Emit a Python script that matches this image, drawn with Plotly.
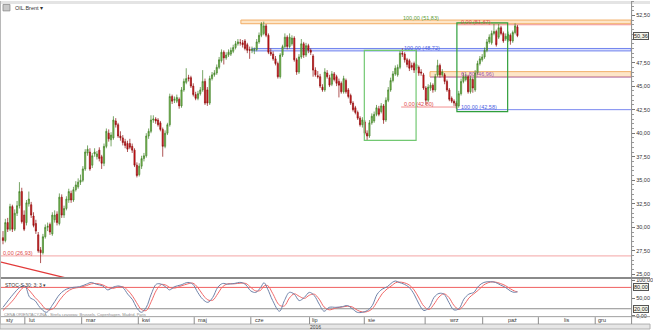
import plotly.graph_objects as go

W, H = 653, 332
def px(x):
    return x / W
def py(y):
    return 1 - y / H

instrument = "OIL.Brent ▾"
stoch_title = "STOC-S 30; 3; 3 ▾"
footer = "CENA ORIENTACYJNA - Strefa czasowa: Brussels, Copenhagen, Madrid, Paris"
year_label = "2016"

opens = [28.9, 28.6, 30.5, 29.8, 32.2, 29.8, 31.5, 32.3, 33.8, 31.3, 30.5, 32.5, 32.4, 31.2, 30.4, 29.2, 27.6, 27.3, 29.0, 30.0,
         30.3, 29.3, 30.8, 31.4, 30.4, 33.2, 31.3, 32.0, 32.9, 33.6, 32.9, 34.0, 34.3, 34.8, 35.0, 36.2, 37.9, 38.0, 36.6, 37.8,
         37.5, 38.2, 37.5, 36.8, 38.6, 40.0, 39.3, 39.5, 41.3, 40.9, 39.7, 39.5, 39.1, 38.9, 38.9, 38.6, 38.2, 36.6, 35.6, 36.5,
         37.3, 37.6, 39.7, 40.2, 41.4, 41.5, 41.4, 41.1, 40.4, 38.6, 40.0, 40.9, 43.9, 43.5, 43.4, 43.6, 42.9, 44.6, 45.4, 45.9,
         45.9, 45.0, 44.1, 43.7, 44.2, 44.6, 45.5, 44.6, 43.2, 45.8, 46.2, 46.4, 47.0, 47.7, 48.6, 48.0, 48.3, 48.4, 48.7, 49.1,
         49.5, 49.6, 49.6, 49.8, 49.4, 48.9, 48.8, 48.8, 48.9, 49.7, 50.4, 50.6, 51.4, 50.4, 48.6, 48.4, 47.9, 47.4, 46.0, 48.3,
         49.2, 50.2, 49.2, 49.5, 50.1, 47.8, 46.5, 48.1, 49.5, 48.3, 49.3, 48.8, 48.2, 46.7, 46.1, 46.0, 44.9, 44.6, 46.4, 45.9,
         45.2, 46.3, 46.0, 45.5, 45.3, 44.4, 45.6, 44.6, 44.0, 43.2, 42.7, 42.2, 41.6, 40.9, 41.2, 40.0, 39.7, 41.1, 41.3, 42.0,
         42.6, 42.3, 42.9, 41.4, 43.5, 44.6, 45.6, 46.3, 46.2, 47.0, 48.5, 48.4, 47.8, 47.7, 47.2, 47.4, 46.9, 47.0, 46.5, 46.2,
         44.8, 43.5, 44.8, 45.1, 44.6, 46.2, 47.2, 46.2, 46.2, 45.5, 44.6, 43.7, 43.4, 43.2, 42.9, 44.2, 45.5, 45.7, 46.0, 44.4,
         45.7, 44.6, 46.4, 47.4, 47.8, 48.1, 48.8, 49.7, 49.6, 50.6, 50.8, 50.2, 51.2, 50.6, 50.0, 49.9, 50.4, 49.8, 50.7, 51.3]
highs = [29.6, 30.9, 31.0, 32.5, 32.4, 31.9, 32.8, 34.8, 34.2, 31.8, 32.9, 33.8, 32.7, 31.6, 30.8, 29.5, 27.9, 29.3, 30.3, 30.5,
         30.5, 31.6, 31.8, 31.7, 33.6, 33.5, 32.3, 33.3, 34.1, 33.9, 34.3, 34.9, 35.2, 35.6, 36.5, 38.3, 38.7, 38.4, 37.9, 38.4,
         38.1, 38.5, 37.7, 38.9, 40.5, 40.4, 40.1, 41.8, 41.6, 41.1, 40.2, 39.8, 39.4, 39.2, 39.4, 38.9, 38.4, 36.9, 36.8, 37.6,
         37.9, 40.0, 40.5, 41.9, 41.9, 41.7, 41.6, 41.3, 40.6, 40.3, 41.1, 44.2, 44.1, 43.9, 44.1, 43.8, 44.9, 45.8, 46.9, 46.2,
         46.1, 45.3, 44.4, 44.5, 44.9, 46.7, 45.8, 44.9, 46.1, 46.5, 46.7, 47.3, 48.1, 48.9, 48.8, 48.6, 48.9, 49.1, 49.4, 49.8,
         50.0, 50.0, 49.9, 50.0, 49.6, 49.2, 49.2, 49.1, 50.0, 50.7, 51.8, 51.85, 51.6, 50.6, 49.0, 48.7, 48.2, 47.6, 48.5, 49.4,
         50.6, 50.4, 50.6, 50.4, 50.3, 48.0, 48.4, 50.0, 49.7, 49.6, 49.5, 49.0, 48.4, 47.0, 46.6, 46.3, 45.2, 46.9, 46.7, 46.2,
         46.6, 46.5, 46.2, 45.8, 45.5, 46.1, 45.8, 44.8, 44.2, 43.4, 42.9, 42.4, 41.8, 41.7, 41.4, 40.3, 41.4, 42.1, 42.3, 43.0,
         42.9, 43.2, 43.1, 43.8, 44.9, 45.9, 46.6, 47.2, 47.3, 48.8, 49.0, 48.6, 48.0, 47.9, 47.5, 47.6, 48.8, 47.2, 46.8, 46.4,
         45.0, 45.2, 45.4, 45.3, 46.3, 47.8, 47.4, 46.8, 46.4, 45.7, 44.8, 43.9, 43.6, 43.4, 44.5, 45.8, 46.4, 46.3, 46.2, 46.1,
         45.9, 46.7, 47.7, 48.2, 48.4, 49.1, 50.0, 50.5, 50.9, 51.6, 51.0, 51.6, 51.4, 50.8, 50.6, 50.8, 50.6, 50.9, 51.67, 51.5]
lows = [28.2, 28.4, 29.5, 29.6, 29.5, 29.6, 31.2, 32.0, 30.4, 29.6, 30.2, 32.2, 31.0, 30.0, 29.3, 27.3, 26.2, 27.1, 28.8, 29.6,
        29.2, 29.1, 30.5, 30.2, 30.2, 31.0, 31.0, 31.8, 32.6, 32.6, 32.7, 33.8, 34.1, 34.5, 34.8, 36.0, 37.6, 36.0, 36.3, 37.5,
        37.2, 37.0, 36.2, 36.5, 38.4, 39.1, 38.6, 39.3, 40.6, 39.5, 39.2, 38.7, 38.4, 38.0, 38.3, 37.9, 36.4, 35.3, 35.4, 36.2,
        37.0, 37.4, 39.4, 40.0, 41.1, 41.0, 40.7, 40.2, 37.5, 38.4, 39.8, 40.7, 43.1, 43.2, 43.2, 42.6, 42.7, 44.4, 45.2, 45.5,
        44.8, 43.9, 43.5, 43.5, 44.0, 44.4, 43.0, 42.9, 43.0, 45.6, 46.0, 46.2, 46.8, 47.5, 47.3, 47.8, 48.1, 48.2, 48.5, 48.9,
        49.3, 49.3, 49.1, 48.8, 48.5, 47.9, 48.5, 48.4, 48.7, 49.5, 50.2, 50.4, 50.2, 48.4, 48.2, 47.7, 47.2, 45.8, 45.8, 48.1,
        49.0, 48.9, 49.0, 49.3, 47.6, 46.2, 46.3, 47.9, 48.0, 48.1, 48.5, 48.3, 46.0, 46.0, 45.8, 44.8, 44.4, 44.4, 45.8, 44.9,
        45.0, 45.5, 45.0, 43.8, 44.2, 44.2, 44.2, 43.7, 43.0, 42.3, 42.0, 41.4, 40.7, 40.6, 39.8, 39.2, 39.5, 40.9, 41.1, 41.8,
        41.8, 42.1, 41.0, 41.2, 43.3, 44.4, 45.4, 46.1, 46.0, 46.8, 48.1, 47.5, 47.0, 46.6, 46.7, 46.4, 46.7, 46.1, 46.1, 44.6,
        43.0, 43.3, 44.5, 44.3, 44.4, 46.0, 45.9, 46.0, 45.2, 44.4, 43.4, 43.2, 42.9, 42.58, 42.7, 44.0, 45.3, 45.5, 44.2, 44.2,
        44.3, 44.4, 46.2, 47.2, 47.6, 47.9, 48.6, 49.5, 49.4, 50.4, 49.2, 50.0, 50.4, 49.6, 49.8, 49.7, 49.4, 49.6, 50.5, 50.2]
closes = [28.6, 30.5, 29.8, 32.2, 29.8, 31.5, 32.3, 33.8, 30.6, 29.8, 32.6, 33.0, 31.3, 30.2, 29.6, 27.5, 27.3, 29.0, 30.0, 30.1,
          29.5, 31.3, 31.3, 30.5, 33.2, 31.3, 32.0, 33.0, 33.8, 32.9, 34.0, 34.5, 34.8, 35.0, 36.2, 38.0, 38.3, 36.2, 37.6, 38.0,
          37.8, 37.3, 36.8, 38.6, 40.2, 39.4, 39.8, 41.4, 40.9, 39.7, 39.5, 39.0, 38.7, 38.3, 38.5, 38.2, 36.6, 35.5, 36.5, 37.3,
          37.6, 39.7, 40.2, 41.4, 41.5, 41.3, 40.9, 40.4, 38.6, 40.0, 40.9, 43.9, 43.4, 43.6, 43.8, 42.9, 44.6, 45.5, 45.8, 45.8,
          45.0, 44.1, 43.7, 44.2, 44.6, 45.5, 43.2, 43.2, 45.8, 46.2, 46.4, 47.0, 47.8, 48.6, 48.0, 48.3, 48.6, 48.8, 49.1, 49.5,
          49.7, 49.6, 49.4, 49.0, 48.8, 48.8, 48.9, 48.9, 49.7, 50.4, 51.6, 51.4, 50.4, 48.6, 48.4, 47.9, 47.4, 46.0, 48.3, 49.2,
          50.2, 49.2, 50.2, 50.1, 47.8, 46.5, 48.1, 49.5, 48.3, 49.3, 48.8, 48.6, 46.7, 46.2, 46.0, 45.0, 44.6, 46.5, 46.0, 45.1,
          46.3, 45.7, 45.3, 45.1, 44.4, 45.8, 44.4, 43.9, 43.2, 42.5, 42.2, 41.6, 40.9, 41.4, 40.0, 39.7, 41.1, 41.8, 42.0, 42.7,
          42.0, 42.9, 41.4, 43.5, 44.6, 45.6, 46.3, 46.9, 47.0, 48.5, 48.4, 47.8, 47.3, 46.9, 47.0, 46.7, 47.3, 46.4, 46.4, 44.8,
          43.5, 44.9, 45.1, 44.6, 46.0, 47.2, 46.2, 46.5, 45.5, 44.6, 43.6, 43.4, 43.2, 42.9, 44.2, 45.5, 46.0, 46.0, 44.4, 45.8,
          44.8, 46.4, 47.4, 47.9, 48.1, 48.8, 49.7, 50.2, 50.6, 50.8, 49.4, 51.2, 50.6, 49.8, 50.3, 50.5, 49.8, 50.7, 51.4, 50.36]
bar_idx = list(range(len(closes)))

# Stochastic (slow) readings: position in bar units, %K and %D
stoch_pos = [0, 4.4, 7.2, 9.3, 11.4, 13.6, 15.7, 18.5, 21.3, 24.2, 27, 29.8, 32.6, 35.5, 37.6, 39.7, 42.5, 44.6, 46.7, 48.9,
             51, 53.1, 55.2, 56.8, 58.9, 61, 63.1, 65.3, 67.4, 69.5, 70.9, 73, 75.8, 78.7, 80.8, 82.9, 85, 87.2, 89.3, 91.4,
             93.5, 95.6, 98.4, 101.3, 103.4, 105.5, 107.6, 109.7, 111.1, 112.7, 114.8, 117.7, 119.8, 121.9, 124, 126.1, 128.3,
             130.4, 132.5, 134.6, 136.7, 138.9, 141.7, 144.5, 146.6, 148.7, 150.8, 153, 155.1, 157.2, 159.3, 161.4, 163.6,
             165.7, 167.1, 168.6, 170.8, 172.9, 175, 177.1, 179.2, 181.4, 183.5, 185.6, 187.7, 189.8, 191.9, 194.1, 196.2,
             198.3, 200.4, 202.5, 204.7, 207.5, 209.6, 211.7, 213.9, 216, 217.7, 219]
stoch_k = [24, 61, 80, 84, 52, 43, 24, 10, 33, 61, 75, 80, 82, 89, 94, 89, 84, 73, 80, 84,
           80, 61, 45, 24, 10, 24, 61, 89, 89, 80, 73, 82, 87, 94, 89, 66, 47, 38, 52, 80,
           91, 89, 91, 94, 87, 70, 66, 80, 93, 75, 43, 13, 43, 66, 61, 43, 52,
           66, 57, 33, 13, 24, 24, 26, 29, 20, 10, 10, 15, 29, 61, 75, 82,
           94, 98, 94, 89, 80, 61, 33, 15, 24, 52, 63, 61, 38, 17, 20, 47,
           61, 66, 84, 94, 96, 94, 87, 80, 70, 66, 68]
stoch_d = [15, 45, 70, 82, 70, 52, 38, 18, 20, 45, 66, 77, 80, 85, 90, 91, 87, 80, 77, 81,
           82, 72, 55, 38, 18, 15, 40, 72, 88, 86, 80, 78, 84, 90, 92, 80, 60, 45, 44, 62,
           82, 90, 90, 92, 91, 80, 70, 72, 84, 85, 63, 30, 28, 50, 62, 55, 49,
           58, 61, 47, 25, 17, 22, 25, 27, 25, 16, 11, 12, 20, 40, 62, 76,
           86, 93, 95, 93, 87, 73, 50, 27, 18, 33, 53, 62, 52, 30, 18, 30,
           50, 62, 73, 87, 95, 95, 91, 85, 76, 70, 67]

price_ticks = [25.0, 27.5, 30.0, 32.5, 35.0, 37.5, 40.0, 42.5, 45.0, 47.5, 50.0, 52.5]
price_tick_text = ["25,00", "27,50", "30,00", "32,50", "35,00", "37,50", "40,00", "42,50", "45,00", "47,50", "", "52,50"]
last_price = 50.36
last_price_text = "50,36"
stoch_ticks = [0, 50, 100]
stoch_tick_text = ["0,00", "50,00", "100,00"]
stoch_levels = [80, 20]
stoch_level_text = ["80,00", "20,00"]

month_labels = ["sty", "lut", "mar", "kwi", "maj", "cze", "lip", "sie", "wrz", "paź", "lis", "gru"]
month_label_pos = [0.4, 10.2, 34.3, 58.5, 82.2, 106.4, 130.9, 154.7, 189.0, 214.0, 238.1, 252.5]
month_tick_pos = [9.3, 33.5, 57.6, 81.4, 105.5, 130.5, 153.8, 179.7, 204.2, 227.9, 252.1]

# Fibonacci / drawing tool levels (label, drawn price)
fib_top_label = "100,00 (51,83)"
fib_top_zero_label = "0,00 (51,67)"
fib_blue_label = "100,00 (48,72)"
fib_mid_label = "61,80 (46,96)"
fib_red_label = "0,00 (42,80)"
fib_blue2_label = "100,00 (42,58)"
fib_low_label = "0,00 (26,93)"

X0, X1 = -3 / 2.36, (634 - 3) / 2.36
YLO, YHI = 24.654, 54.044
SLO, SHI = -0.83, 104.7

fig = go.Figure()
fig.add_trace(go.Candlestick(
    x=bar_idx, open=opens, high=highs, low=lows, close=closes,
    increasing=dict(line=dict(color="#3f7f25", width=0.7), fillcolor="#86c45c"),
    decreasing=dict(line=dict(color="#8c0d0d", width=0.7), fillcolor="#e3141b"),
    whiskerwidth=0, hoverinfo="skip", showlegend=False, xaxis="x", yaxis="y"))
fig.add_trace(go.Scatter(x=stoch_pos, y=stoch_d, mode="lines", line=dict(color="#f06868", width=1, shape="spline"),
                         xaxis="x2", yaxis="y2", hoverinfo="skip", showlegend=False))
fig.add_trace(go.Scatter(x=stoch_pos, y=stoch_k, mode="lines", line=dict(color="#6f82a8", width=1, shape="spline"),
                         xaxis="x2", yaxis="y2", hoverinfo="skip", showlegend=False))

shapes = []
annots = []
FONT = "Liberation Sans, Arial, sans-serif"

def hline(x0p, x1p, y, color, width=1, ref="y"):
    shapes.append(dict(type="line", xref="paper", yref=ref, x0=px(x0p), x1=px(x1p), y0=y, y1=y,
                       line=dict(color=color, width=width), layer="below"))

def label(xp, y, text, color, size=5.5, yref="y", anchor="left", yanchor="middle", **kw):
    annots.append(dict(x=px(xp), y=y, xref="paper", yref=yref, text=text, showarrow=False,
                       xanchor=anchor, yanchor=yanchor, font=dict(family=FONT, size=size, color=color), **kw))

# top strip
shapes.append(dict(type="rect", xref="paper", yref="paper", x0=0, x1=1, y0=py(3), y1=1,
                   fillcolor="#e4e4e4", line=dict(width=0), layer="below"))
# orange top band
shapes.append(dict(type="rect", xref="paper", yref="y", x0=px(242), x1=px(634), y0=51.63, y1=52.02,
                   fillcolor="#fde6c8", line=dict(color="#f2ae66", width=1), layer="below"))
hline(459, 634, 51.52, "#f29090", 1)
label(403, 52.2, fib_top_label, "#5c9e3a")
label(461, 51.83, fib_top_zero_label, "#e04848")
# blue band
shapes.append(dict(type="rect", xref="paper", yref="y", x0=px(253), x1=px(634), y0=48.74, y1=49.0,
                   fillcolor="rgba(150,165,245,0.35)", line=dict(color="#7284ee", width=1), layer="below"))
label(404, 49.1, fib_blue_label, "#4c5ee0")
# middle orange band
shapes.append(dict(type="rect", xref="paper", yref="y", x0=px(432), x1=px(634), y0=45.98, y1=46.54,
                   fillcolor="#fde6c8", line=dict(color="#f2ae66", width=1), layer="below"))
hline(432, 634, 45.96, "#b47cc8", 1)
label(461, 46.3, fib_mid_label, "#a050b4")
# red & blue lower levels
hline(403, 459, 42.78, "#f29090", 1)
label(404, 43.15, fib_red_label, "#e04848")
hline(459, 634, 42.5, "#7a88f0", 1)
label(461, 42.75, fib_blue2_label, "#4c5ee0")
# low level
hline(0, 634, 26.96, "#f4a4a4", 1)
label(1, 27.3, fib_low_label, "#e04848")
# diagonal red line
shapes.append(dict(type="line", xref="paper", yref="paper", x0=px(0), y0=py(264), x1=px(65), y1=py(280),
                   line=dict(color="#e23a3a", width=1.3)))
# green boxes
shapes.append(dict(type="rect", xref="paper", yref="y", x0=px(366), x1=px(418), y0=39.24, y1=48.8,
                   line=dict(color="#72c872", width=1.2), fillcolor="rgba(0,0,0,0)"))
shapes.append(dict(type="rect", xref="paper", yref="y", x0=px(459), x1=px(510), y0=42.29, y1=51.73,
                   line=dict(color="#2f9f3a", width=1.2), fillcolor="rgba(0,0,0,0)"))

# stoch levels
for lv, col in zip(stoch_levels, ["#f06060", "#8e8e8e"]):
    hline(0, 634, lv, col, 1, ref="y2")
for lv, txt in zip(stoch_levels, stoch_level_text):
    label(636, lv, txt, "#222", size=5.5, yref="y2", bgcolor="#f6f6ea", bordercolor="#555", borderwidth=1, borderpad=0)

# panel separators and frame
shapes.append(dict(type="line", xref="paper", yref="paper", x0=0, x1=1, y0=py(280.5), y1=py(280.5),
                   line=dict(color="#8a8a8a", width=2)))
shapes.append(dict(type="line", xref="paper", yref="paper", x0=0, x1=1, y0=py(319.5), y1=py(319.5),
                   line=dict(color="#a0a0a0", width=1)))
shapes.append(dict(type="rect", xref="paper", yref="paper", x0=0, x1=1, y0=0, y1=py(327),
                   fillcolor="#e6e6e6", line=dict(color="#b0b0b0", width=1)))
shapes.append(dict(type="line", xref="paper", yref="paper", x0=px(634.5), x1=px(634.5), y0=py(327), y1=1,
                   line=dict(color="#8c8c8c", width=1)))
shapes.append(dict(type="line", xref="paper", yref="paper", x0=px(0.5), x1=px(0.5), y0=py(327), y1=1,
                   line=dict(color="#b8b8b8", width=1)))
for t in month_tick_pos:
    shapes.append(dict(type="line", xref="x", yref="paper", x0=t, x1=t, y0=py(320), y1=py(327),
                       line=dict(color="#8c8c8c", width=1)))
for t, txt in zip(month_label_pos, month_labels):
    annots.append(dict(x=t, y=py(323.3), xref="x", yref="paper", text=txt, showarrow=False, xanchor="left",
                       yanchor="middle", font=dict(family=FONT, size=5.5, color="#333")))

# price marker
label(636, last_price, last_price_text, "#222", size=5.5, bgcolor="#f6f6ea", bordercolor="#555", borderwidth=1, borderpad=0)

# texts
shapes.append(dict(type="rect", xref="paper", yref="paper", x0=px(3), x1=px(10), y0=py(10), y1=py(3.5),
                   fillcolor="#c8c8c8", line=dict(color="#8a8a8a", width=0.8)))
label(13, py(6.8), instrument, "#333", size=5.5, yref="paper")
label(3, py(287.5), stoch_title, "#333", size=5, yref="paper")
label(2, py(317.5), footer, "#8a8a8a", size=4, yref="paper")
label(317, py(329.6), year_label, "#444", size=5, yref="paper", anchor="center")

fig.update_layout(
    width=W, height=H, margin=dict(l=0, r=0, t=0, b=0),
    paper_bgcolor="white", plot_bgcolor="white",
    shapes=shapes, annotations=annots, showlegend=False,
    xaxis=dict(domain=[0, px(634)], range=[X0, X1], showticklabels=False, showgrid=False, zeroline=False,
               rangeslider=dict(visible=False), anchor="y", fixedrange=True),
    xaxis2=dict(domain=[0, px(634)], range=[X0, X1], matches="x", showticklabels=False, showgrid=False,
                zeroline=False, anchor="y2"),
    yaxis=dict(domain=[py(280), 1], range=[YLO, YHI], side="right", anchor="x", tickmode="array",
               tickvals=price_ticks, ticktext=price_tick_text, ticks="outside", ticklen=3, tickcolor="#777",
               tickfont=dict(family=FONT, size=5.5, color="#333"), showgrid=False, zeroline=False,
               minor=dict(dtick=0.5, ticks="outside", ticklen=1.5, tickcolor="#999")),
    yaxis2=dict(domain=[py(319), py(281)], range=[SLO, SHI], side="right", anchor="x2", tickmode="array",
                tickvals=stoch_ticks, ticktext=stoch_tick_text, ticks="outside", ticklen=3, tickcolor="#777",
                tickfont=dict(family=FONT, size=5.5, color="#333"), showgrid=False, zeroline=False),
)

fig.write_html("out.html")
